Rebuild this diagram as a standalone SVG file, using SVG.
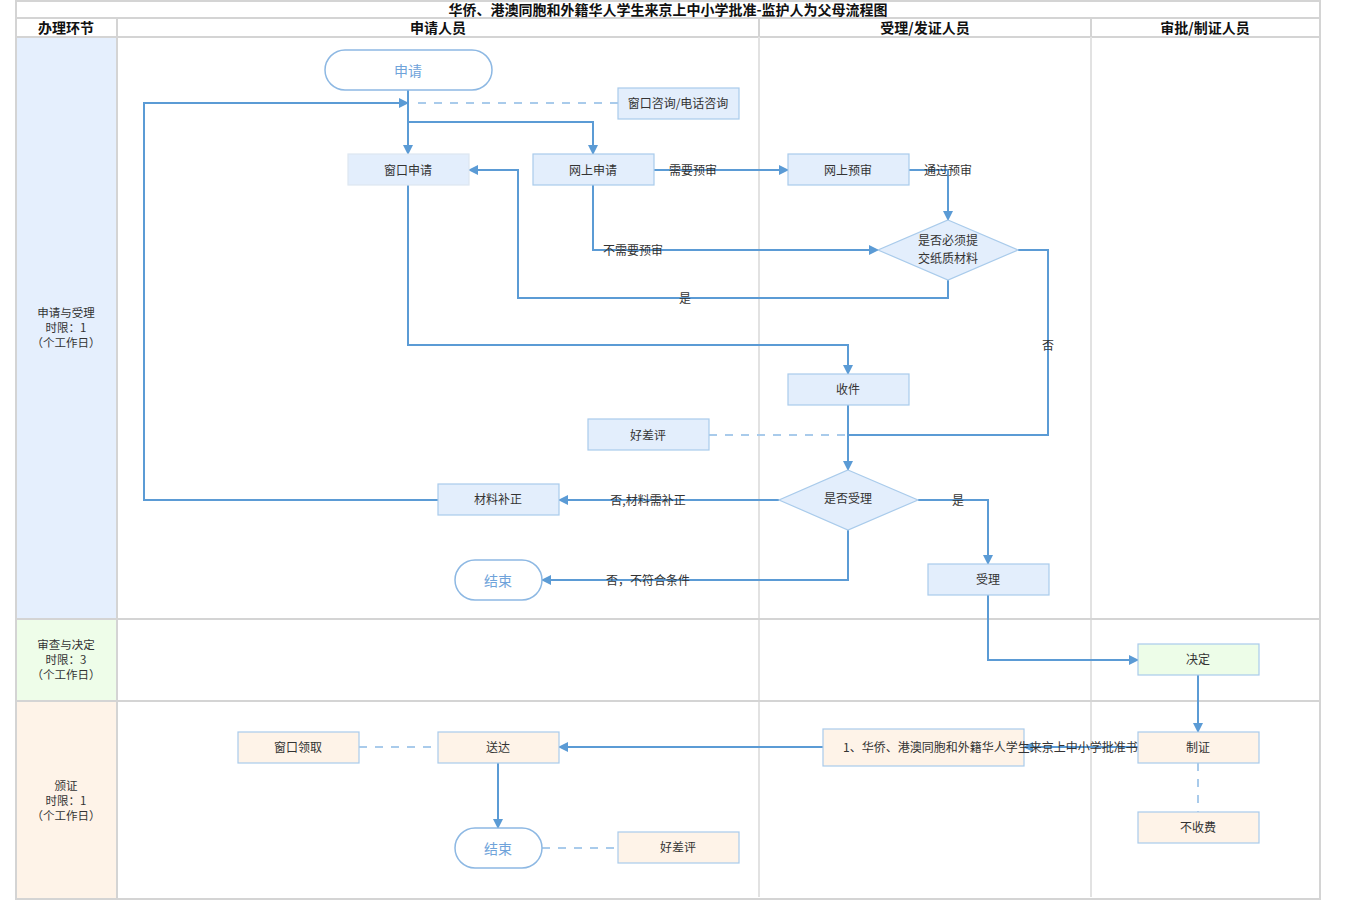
<svg xmlns="http://www.w3.org/2000/svg" width="1350" height="901" viewBox="0 0 1350 901">
<style>
text{font-family:"Noto Sans CJK SC","Liberation Sans",sans-serif;font-size:12px;fill:#333;text-anchor:middle;dominant-baseline:central}
.hd{font-weight:bold;font-size:14px;fill:#111}
.ll{font-size:11.5px}
.grid{stroke:#D4D4D4;stroke-width:2;fill:none}
.lane{stroke:#E2E2E2;stroke-width:2;fill:none}
.nb{fill:#E3EEFC;stroke:#A9CBEB;stroke-width:1.2}
.nb2{fill:#E3EEFC;stroke:#DDE6F0;stroke-width:1.2}
.ng{fill:#EDFDE8;stroke:#A9CBEB;stroke-width:1.2}
.no{fill:#FEF3E8;stroke:#A9CBEB;stroke-width:1.2}
.term{fill:#fff;stroke:#8DB8E3;stroke-width:1.5}
.tt{fill:#6FA3DA;font-size:14px}
.c{stroke:#5B9BD5;stroke-width:2;fill:none}
.d{stroke:#A9CBEB;stroke-width:2;fill:none;stroke-dasharray:8 8}
.lb{font-size:12px;fill:#333}
</style>
<defs>
<marker id="ar" viewBox="0 0 10 10" refX="9" refY="5" markerWidth="10" markerHeight="10" markerUnits="userSpaceOnUse" orient="auto">
<path d="M0,0 L10,5 L0,10 z" fill="#5B9BD5"/>
</marker>
</defs>
<rect width="1350" height="901" fill="#fff"/>
<g id="frame">
<rect x="16" y="37" width="101" height="582" fill="#E5EFFD"/>
<rect x="16" y="619" width="101" height="82" fill="#EEFDE9"/>
<rect x="16" y="701" width="101" height="198" fill="#FEF3E8"/>
<rect x="16" y="1" width="1304" height="898" class="grid"/>
<line x1="16" y1="18" x2="1320" y2="18" class="grid"/>
<line x1="16" y1="37" x2="1320" y2="37" class="grid"/>
<line x1="117" y1="18" x2="117" y2="899" class="grid"/>
<line x1="759" y1="18" x2="759" y2="37" class="grid"/>
<line x1="1091" y1="18" x2="1091" y2="37" class="grid"/>
<line x1="759" y1="37" x2="759" y2="897" class="lane"/>
<line x1="1091" y1="37" x2="1091" y2="897" class="lane"/>
<line x1="16" y1="619" x2="1320" y2="619" class="grid"/>
<line x1="16" y1="701" x2="1320" y2="701" class="grid"/>
<text x="668" y="9" class="hd">华侨、港澳同胞和外籍华人学生来京上中小学批准-监护人为父母流程图</text>
<text x="66" y="27" class="hd">办理环节</text>
<text x="438" y="27" class="hd">申请人员</text>
<text x="925" y="27" class="hd">受理/发证人员</text>
<text x="1205" y="27" class="hd">审批/制证人员</text>
<text x="66" y="312" class="ll">申请与受理</text>
<text x="66" y="327" class="ll">时限：1</text>
<text x="66" y="342" class="ll">（个工作日）</text>
<text x="66" y="644" class="ll">审查与决定</text>
<text x="66" y="659" class="ll">时限：3</text>
<text x="66" y="674" class="ll">（个工作日）</text>
<text x="66" y="785" class="ll">颁证</text>
<text x="66" y="800" class="ll">时限：1</text>
<text x="66" y="815" class="ll">（个工作日）</text>
</g>
<g id="connectors">
<path class="c" d="M408,90 V154" marker-end="url(#ar)"/>
<path class="c" d="M408,122 H593 V154" marker-end="url(#ar)"/>
<path class="c" d="M438,500 H144 V103 H408" marker-end="url(#ar)"/>
<path class="d" d="M618,103 H412"/>
<path class="c" d="M654,170 H788" marker-end="url(#ar)"/>
<path class="c" d="M909,170 H948 V220" marker-end="url(#ar)"/>
<path class="c" d="M593,185 V250 H878" marker-end="url(#ar)"/>
<path class="c" d="M948,280 V298 H518 V170 H469" marker-end="url(#ar)"/>
<path class="c" d="M1018,250 H1048 V435 H848"/>
<path class="d" d="M709,435 H848"/>
<path class="c" d="M408,185 V345 H848 V374" marker-end="url(#ar)"/>
<path class="c" d="M848,405 V470" marker-end="url(#ar)"/>
<path class="c" d="M779,500 H559" marker-end="url(#ar)"/>
<path class="c" d="M918,500 H988 V564" marker-end="url(#ar)"/>
<path class="c" d="M848,530 V580 H542" marker-end="url(#ar)"/>
<path class="c" d="M988,595 V660 H1138" marker-end="url(#ar)"/>
<path class="c" d="M1198,675 V732" marker-end="url(#ar)"/>
<path class="c" d="M1138,747 H1024" marker-end="url(#ar)"/>
<path class="c" d="M823,747 H559" marker-end="url(#ar)"/>
<path class="d" d="M1198,763 V812"/>
<path class="d" d="M359,747 H438"/>
<path class="c" d="M498,763 V828" marker-end="url(#ar)"/>
<path class="d" d="M542,848 H618"/>
<text x="693" y="169" class="lb">需要预审</text>
<text x="948" y="169" class="lb">通过预审</text>
<text x="633" y="249" class="lb">不需要预审</text>
<text x="685" y="297" class="lb">是</text>
<text x="1048" y="344" class="lb">否</text>
<text x="648" y="499" class="lb">否,材料需补正</text>
<text x="958" y="499" class="lb">是</text>
<text x="648" y="579" class="lb">否，不符合条件</text>
</g>
<g id="n-apply"><rect x="325" y="50" width="167" height="40" rx="20" class="term"/><text x="408" y="70" class="tt">申请</text></g>
<g id="n-consult"><rect x="618" y="88" width="121" height="31" class="nb"/><text x="678" y="102">窗口咨询/电话咨询</text></g>
<g id="n-window"><rect x="348" y="154" width="121" height="31" class="nb2"/><text x="408" y="169">窗口申请</text></g>
<g id="n-online"><rect x="533" y="154" width="121" height="31" class="nb"/><text x="593" y="169">网上申请</text></g>
<g id="n-precheck"><rect x="788" y="154" width="121" height="31" class="nb"/><text x="848" y="169">网上预审</text></g>
<g id="n-paper"><polygon points="948,220 1018,250 948,280 878,250" class="nb"/><text x="948" y="239">是否必须提</text><text x="948" y="257">交纸质材料</text></g>
<g id="n-receive"><rect x="788" y="374" width="121" height="31" class="nb"/><text x="848" y="388">收件</text></g>
<g id="n-eval1"><rect x="588" y="419" width="121" height="31" class="nb"/><text x="648" y="434">好差评</text></g>
<g id="n-accept-q"><polygon points="848,470 918,500 848,530 779,500" class="nb"/><text x="848" y="497">是否受理</text></g>
<g id="n-supplement"><rect x="438" y="484" width="121" height="31" class="nb"/><text x="498" y="498">材料补正</text></g>
<g id="n-end1"><rect x="455" y="560" width="87" height="40" rx="20" class="term"/><text x="498" y="580" class="tt">结束</text></g>
<g id="n-accept"><rect x="928" y="564" width="121" height="31" class="nb"/><text x="988" y="578">受理</text></g>
<g id="n-decide"><rect x="1138" y="644" width="121" height="31" class="ng"/><text x="1198" y="658">决定</text></g>
<g id="n-make"><rect x="1138" y="732" width="121" height="31" class="no"/><text x="1198" y="746">制证</text></g>
<g id="n-nofee"><rect x="1138" y="812" width="121" height="31" class="no"/><text x="1198" y="826">不收费</text></g>
<g id="n-cert"><rect x="823" y="729" width="201" height="37" class="no"/><text x="843" y="746" style="text-anchor:start">1、华侨、港澳同胞和外籍华人学生来京上中小学批准书</text></g>
<g id="n-deliver"><rect x="438" y="732" width="121" height="31" class="no"/><text x="498" y="746">送达</text></g>
<g id="n-pickup"><rect x="238" y="732" width="121" height="31" class="no"/><text x="298" y="746">窗口领取</text></g>
<g id="n-end2"><rect x="455" y="828" width="87" height="40" rx="20" class="term"/><text x="498" y="848" class="tt">结束</text></g>
<g id="n-eval2"><rect x="618" y="832" width="121" height="31" class="no"/><text x="678" y="846">好差评</text></g>
</svg>
